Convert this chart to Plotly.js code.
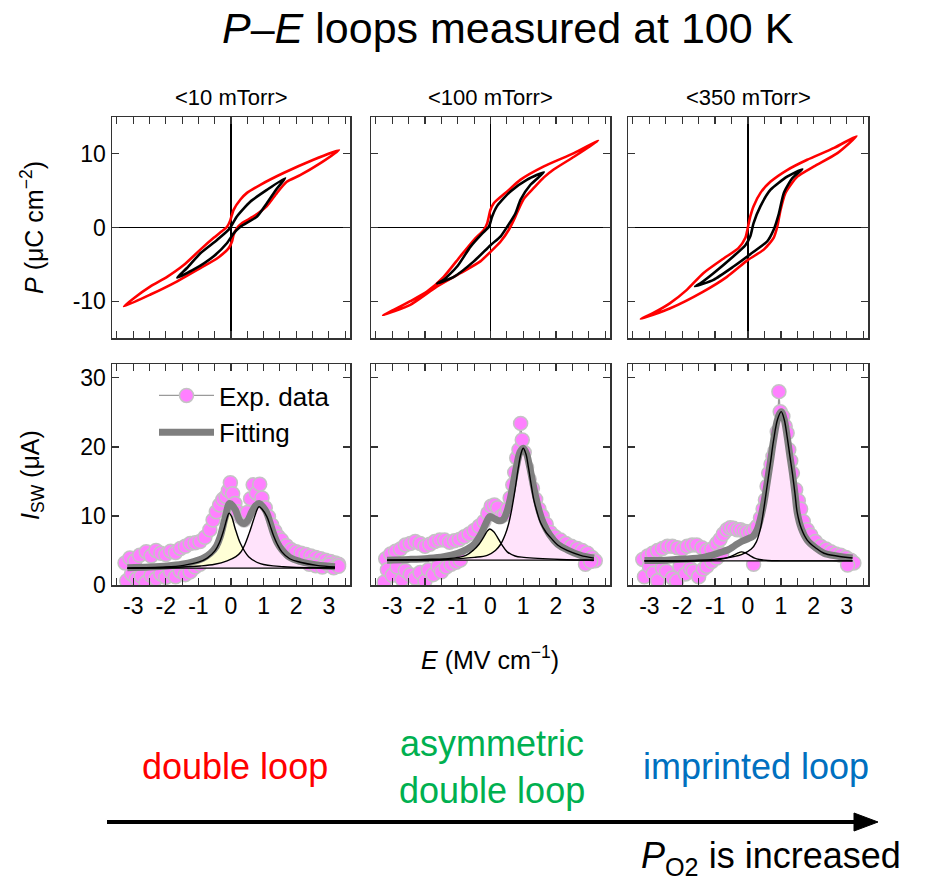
<!DOCTYPE html>
<html>
<head>
<meta charset="utf-8">
<script src="https://cdn.plot.ly/plotly-3.0.1.min.js"></script>
<style>html,body{margin:0;padding:0;background:#fff;}#chart{width:925px;height:884px;}</style>
</head>
<body>
<div id="chart"></div>
<script>
// ---------------- DATA ----------------
const panelTitles = ['&lt;10 mTorr&gt;', '&lt;100 mTorr&gt;', '&lt;350 mTorr&gt;'];
const xTickVals = [-3, -2, -1, 0, 1, 2, 3];
const xTickText = ['-3', '-2', '-1', '0', '1', '2', '3'];
const pTickVals = [-10, 0, 10];
const pTickText = ['-10', '0', '10'];
const iTickVals = [0, 10, 20, 30];
const iTickText = ['0', '10', '20', '30'];

// P-E loops (E in MV/cm, P in uC/cm2) : red = large field loop, black = small field loop
const red10_E = [3.31, 2.53, 1.61, 0.90, 0.49, 0.29, 0.08, -0.02, -0.12, -0.28, -0.53, -0.94, -1.45, -1.96, -2.47, -2.98, -3.28, -2.47, -1.65, -0.94, -0.43, -0.07, 0.03, 0.08, 0.18, 0.34, 0.69, 1.10, 1.41, 1.71, 2.12, 2.73, 3.31];
const red10_P = [10.5, 9.2, 7.4, 5.8, 4.7, 3.8, 2.4, 1.0, 0.1, -0.5, -1.4, -3.0, -5.1, -6.7, -8.0, -9.6, -10.7, -9.1, -7.3, -5.5, -4.2, -2.8, -1.9, -1.0, -0.1, 0.6, 1.5, 2.9, 4.7, 6.2, 7.1, 8.7, 10.5];
const blk10_E = [1.66, 1.10, 0.59, 0.18, 0.03, -0.07, -0.43, -0.94, -1.35, -1.65, -1.14, -0.53, -0.12, 0.08, 0.29, 0.80, 1.10, 1.41, 1.66];
const blk10_P = [6.7, 5.1, 3.5, 1.5, 0.36, -0.3, -1.7, -3.5, -5.5, -6.8, -5.7, -3.9, -2.1, -0.8, 0.1, 1.5, 3.3, 5.3, 6.7];

const red100_E = [3.29, 2.55, 1.63, 0.92, 0.51, 0.10, 0.0, -0.10, -0.20, -0.51, -0.92, -1.43, -1.94, -2.45, -2.96, -3.28, -2.45, -1.63, -0.92, -0.31, 0.0, 0.31, 0.56, 0.71, 0.85, 1.02, 1.33, 1.63, 1.94, 2.55, 2.96, 3.29];
const red100_P = [11.8, 10.1, 8.3, 6.5, 4.9, 3.3, 2.4, 0.6, -0.3, -1.7, -3.9, -6.7, -8.7, -10.0, -11.2, -11.9, -10.5, -8.0, -6.2, -4.6, -3.3, -1.9, -0.3, 1.0, 2.4, 3.9, 5.4, 6.8, 7.9, 9.6, 10.8, 11.8];
const blk100_E = [1.63, 1.12, 0.61, 0.20, 0.05, -0.05, -0.25, -0.61, -1.02, -1.43, -1.63, -1.12, -0.51, 0.0, 0.31, 0.51, 0.76, 0.92, 1.22, 1.63];
const blk100_P = [7.5, 6.5, 4.9, 2.9, 1.5, 0.1, -0.8, -2.6, -5.3, -7.1, -7.6, -6.7, -4.6, -2.4, -1.2, 0.1, 1.9, 3.8, 5.8, 7.5];

const red350_E = [3.30, 2.62, 1.80, 1.19, 0.68, 0.38, 0.17, 0.07, 0.0, -0.08, -0.29, -0.74, -1.36, -1.87, -2.38, -2.88, -3.26, -2.38, -1.36, -0.64, 0.0, 0.48, 0.78, 0.89, 0.99, 1.14, 1.50, 2.01, 2.72, 3.30];
const red350_P = [12.4, 10.8, 9.2, 7.8, 6.2, 4.7, 2.9, 1.5, 0.1, -1.4, -2.8, -4.2, -6.2, -8.5, -10.3, -11.6, -12.4, -11.0, -8.7, -6.7, -4.4, -3.0, -1.4, 0.1, 2.4, 4.7, 6.9, 8.3, 10.1, 12.4];
const blk350_E = [1.65, 1.19, 0.68, 0.38, 0.17, 0.07, -0.08, -0.44, -1.05, -1.46, -1.61, -1.05, -0.44, 0.17, 0.58, 0.78, 0.94, 1.09, 1.35, 1.65];
const blk350_P = [7.9, 6.9, 5.1, 2.9, 0.6, -1.2, -2.4, -3.9, -6.2, -7.6, -8.0, -7.1, -5.3, -3.3, -1.9, -0.3, 1.9, 4.7, 6.7, 7.9];

// Switching current I_SW (uA) vs E : experimental points
const exp10_E = [-3.25, -3.1, -2.95, -2.8, -2.6, -2.45, -2.3, -2.15, -2.0, -1.85, -1.7, -1.55, -1.4, -1.25, -1.1, -0.95, -0.8, -0.65, -0.55, -0.45, -0.35, -0.25, -0.15, -0.08, -0.02, 0.05, 0.12, 0.2, 0.3, 0.4, 0.5, 0.6, 0.68, 0.78, 0.88, 0.95, 1.05, 1.15, 1.25, 1.35, 1.45, 1.55, 1.7, 1.85, 2.0, 2.15, 2.3, 2.45, 2.6, 2.75, 2.9, 3.05, 3.2, 3.3];
const exp10_I = [3.2, 3.9, 3.5, 4.3, 4.8, 4.2, 5.0, 4.6, 4.4, 4.9, 4.7, 5.3, 5.6, 6.0, 6.1, 6.3, 6.9, 8.0, 9.4, 10.6, 11.6, 12.4, 12.8, 13.7, 14.8, 13.2, 11.8, 10.6, 9.8, 9.4, 10.5, 12.5, 14.5, 13.3, 14.6, 12.6, 11.2, 9.9, 8.7, 7.8, 7.0, 6.5, 5.7, 5.1, 4.8, 4.6, 4.4, 4.2, 4.0, 3.8, 3.6, 3.4, 3.2, 3.0];
const exp10b_E = [-3.2, -3.05, -2.9, -2.75, -2.6, -2.45, -2.3, -2.15, -2.0, -1.85, -1.7, -1.55, -1.4, -1.25, -1.1, -0.95, null, 2.4, 2.6, 2.8, 3.0, 3.15, 3.3];
const exp10b_I = [0.6, 1.6, 0.9, 1.3, 0.4, 1.4, 0.9, 1.6, 1.1, 1.9, 1.2, 2.0, 1.5, 1.9, 2.6, 3.0, null, 3.0, 2.8, 2.6, 2.9, 2.5, 2.7];

const exp100_E = [-3.2, -3.05, -2.9, -2.75, -2.6, -2.45, -2.3, -2.15, -2.0, -1.85, -1.7, -1.55, -1.4, -1.25, -1.1, -0.95, -0.8, -0.65, -0.5, -0.35, -0.2, -0.08, 0.02, 0.12, 0.22, 0.32, 0.42, 0.52, 0.6, 0.68, 0.74, 0.8, 0.87, 0.92, 0.97, 1.03, 1.1, 1.18, 1.28, 1.38, 1.48, 1.58, 1.7, 1.83, 1.97, 2.14, 2.3, 2.47, 2.65, 2.8, 2.96, 3.1, 3.2];
const exp100_I = [3.8, 4.5, 4.9, 5.2, 5.8, 6.0, 6.3, 6.0, 5.6, 5.9, 6.3, 6.5, 6.5, 6.2, 6.4, 6.6, 7.0, 7.4, 7.9, 8.5, 9.2, 10.4, 11.4, 11.6, 11.2, 9.9, 10.2, 11.0, 12.6, 14.5, 16.3, 18.4, 19.6, 23.4, 21.0, 19.2, 17.0, 15.3, 14.0, 12.4, 11.0, 10.0, 8.8, 7.6, 7.0, 6.5, 6.0, 5.6, 5.3, 5.0, 4.6, 4.0, 3.5];
const exp100b_E = [-3.25, -3.15, -3.0, -2.85, -2.7, -2.6, -2.45, -2.3, -2.15, -2.0, -1.9, -1.75, -1.6, -1.5, -1.35, -1.2, -1.05, -0.92, null, 2.9, 3.06];
const exp100b_I = [0.4, 2.2, 1.4, 2.6, 0.8, 2.1, 1.5, 1.0, 1.8, 0.6, 2.2, 1.5, 2.7, 1.9, 2.6, 3.0, 3.3, 3.6, null, 3.0, 3.4];

const exp350_E = [-3.2, -3.05, -2.9, -2.75, -2.6, -2.45, -2.3, -2.15, -2.0, -1.85, -1.7, -1.56, -1.4, -1.25, -1.1, -0.95, -0.85, -0.75, -0.64, -0.54, -0.44, -0.33, -0.23, -0.12, -0.03, 0.08, 0.18, 0.28, 0.38, 0.46, 0.53, 0.58, 0.63, 0.7, 0.76, 0.82, 0.89, 0.94, 0.98, 1.06, 1.13, 1.19, 1.24, 1.3, 1.35, 1.45, 1.53, 1.6, 1.68, 1.8, 1.91, 2.05, 2.21, 2.37, 2.52, 2.67, 2.82, 2.98, 3.13, 3.22];
const exp350_I = [3.7, 4.2, 4.6, 5.0, 5.3, 5.6, 5.6, 5.4, 5.2, 5.6, 5.8, 5.8, 5.4, 5.0, 5.2, 6.0, 6.6, 7.4, 8.0, 8.3, 8.2, 8.0, 8.0, 7.8, 7.7, 7.6, 8.0, 8.5, 9.7, 11.0, 12.3, 14.3, 16.2, 17.5, 18.6, 19.4, 22.2, 28.0, 25.1, 24.4, 23.0, 22.0, 19.6, 18.0, 16.2, 13.8, 12.2, 11.0, 9.2, 8.0, 7.2, 6.3, 5.6, 5.2, 4.8, 4.5, 4.3, 4.0, 3.6, 3.2];
const exp350b_E = [-3.15, -3.0, -2.88, -2.75, -2.6, -2.48, -2.3, -2.17, -2.07, -1.9, -1.75, -1.66, -1.5, -1.36, -1.25, -1.1, -0.95, -0.8, null, 0.17, null, 3.03];
const exp350b_I = [1.2, 2.7, 1.7, 0.6, 2.4, 2.0, 1.0, 0.6, 2.7, 1.6, 2.4, 2.0, 1.2, 2.3, 2.7, 3.4, 3.9, 4.5, null, 3.0, null, 2.9];

// Fitting: total curve, two peak components, baseline
const fit10_E = [-3.18, -2.5, -1.96, -1.5, -1.14, -0.85, -0.63, -0.45, -0.33, -0.17, -0.04, 0.13, 0.27, 0.40, 0.52, 0.64, 0.76, 0.86, 1.0, 1.10, 1.2, 1.3, 1.42, 1.56, 1.8, 2.12, 2.63, 3.19];
const fit10_I = [2.5, 2.6, 2.75, 3.0, 3.4, 3.9, 4.6, 5.6, 7.0, 9.9, 11.8, 10.9, 9.3, 8.9, 9.4, 10.6, 11.5, 11.8, 11.2, 10.4, 9.0, 7.5, 6.1, 5.1, 4.0, 3.4, 2.9, 2.65];
const pkA10_E = [-3.18, -2.0, -1.45, -1.0, -0.73, -0.5, -0.35, -0.22, -0.12, -0.06, 0.02, 0.12, 0.29, 0.54, 0.9, 1.61, 3.19];
const pkA10_I = [2.45, 2.6, 2.85, 3.3, 3.9, 4.9, 6.2, 8.0, 9.7, 10.4, 9.9, 8.3, 6.0, 4.1, 3.1, 2.65, 2.5];
const pkB10_E = [-3.18, -1.5, -0.94, -0.5, -0.12, 0.15, 0.29, 0.42, 0.55, 0.69, 0.8, 0.86, 0.95, 1.10, 1.2, 1.30, 1.42, 1.56, 1.8, 2.12, 2.63, 3.19];
const pkB10_I = [2.45, 2.6, 2.75, 3.0, 3.5, 4.1, 4.7, 5.8, 7.4, 9.4, 10.9, 11.35, 11.0, 9.9, 8.6, 7.2, 5.9, 4.8, 3.8, 3.3, 2.85, 2.6];
const base10_E = [-3.18, 3.19];
const base10_I = [2.45, 2.45];

const fit100_E = [-3.16, -2.5, -1.9, -1.43, -1.0, -0.71, -0.5, -0.31, -0.15, -0.02, 0.12, 0.25, 0.39, 0.5, 0.6, 0.7, 0.8, 0.9, 1.0, 1.1, 1.2, 1.3, 1.4, 1.5, 1.62, 1.8, 2.05, 2.34, 2.75, 3.16];
const fit100_I = [3.6, 3.7, 3.85, 4.1, 4.6, 5.2, 5.9, 7.2, 8.8, 9.9, 9.6, 9.3, 9.5, 10.6, 12.4, 14.8, 17.3, 19.2, 19.8, 19.0, 17.0, 14.6, 12.4, 10.5, 8.9, 7.3, 5.9, 5.1, 4.3, 3.9];
const pkA100_E = [-3.16, -2.0, -1.12, -0.75, -0.51, -0.35, -0.2, -0.1, -0.02, 0.1, 0.2, 0.35, 0.51, 0.75, 1.02, 2.14, 3.16];
const pkA100_I = [3.6, 3.7, 3.9, 4.3, 5.1, 5.9, 7.0, 7.8, 8.1, 7.7, 7.0, 5.8, 4.8, 4.2, 4.0, 3.7, 3.6];
const pkB100_E = [-3.16, -1.43, -0.5, -0.1, 0.15, 0.31, 0.45, 0.55, 0.65, 0.75, 0.85, 0.93, 1.0, 1.08, 1.16, 1.24, 1.32, 1.42, 1.53, 1.7, 1.83, 2.05, 2.34, 2.75, 3.16];
const pkB100_I = [3.6, 3.7, 4.0, 4.3, 5.0, 5.9, 7.3, 8.8, 11.0, 13.8, 17.0, 19.0, 19.8, 19.0, 17.0, 14.6, 12.4, 10.6, 9.0, 7.6, 6.9, 5.8, 5.0, 4.3, 3.9];
const base100_E = [-3.16, 3.16];
const base100_I = [3.6, 3.6];

const fit350_E = [-3.15, -2.5, -1.9, -1.36, -1.11, -0.85, -0.6, -0.4, -0.2, 0.0, 0.16, 0.28, 0.38, 0.48, 0.58, 0.68, 0.78, 0.9, 1.01, 1.1, 1.19, 1.27, 1.35, 1.43, 1.5, 1.62, 1.8, 2.05, 2.31, 2.7, 3.18];
const fit350_I = [3.55, 3.6, 3.75, 4.0, 4.3, 4.7, 5.1, 5.7, 6.3, 6.7, 7.1, 8.0, 9.6, 11.8, 14.7, 17.8, 21.0, 24.0, 25.1, 24.0, 21.5, 18.8, 16.2, 13.2, 10.4, 8.2, 6.5, 5.4, 4.6, 4.2, 3.9];
const pkA350_E = [-3.15, -1.5, -1.0, -0.7, -0.45, -0.3, -0.2, -0.1, 0.05, 0.2, 0.35, 0.6, 1.0, 3.18];
const pkA350_I = [3.5, 3.5, 3.6, 3.85, 4.3, 4.65, 4.8, 4.7, 4.3, 3.9, 3.7, 3.55, 3.5, 3.5];
const pkB350_E = [-3.15, -1.5, -0.7, -0.2, 0.1, 0.25, 0.38, 0.48, 0.58, 0.68, 0.78, 0.9, 1.01, 1.1, 1.19, 1.27, 1.35, 1.43, 1.5, 1.62, 1.8, 2.05, 2.31, 2.7, 3.18];
const pkB350_I = [3.5, 3.6, 3.9, 4.4, 5.2, 6.2, 8.2, 11.0, 14.3, 17.6, 21.0, 24.0, 25.1, 24.0, 21.5, 18.8, 16.2, 13.2, 10.4, 8.2, 6.5, 5.4, 4.6, 4.2, 3.9];
const base350_E = [-3.15, 3.18];
const base350_I = [3.5, 3.5];

// ---------------- STYLE ----------------
const FONT = 'Arial, "Liberation Sans", sans-serif';
const W = 925, H = 884;
const px = v => v / W;
const py = v => 1 - v / H;
const colDom = [[px(112), px(350)], [px(371), px(610)], [px(628), px(868)]];
const rowTop = [py(338), py(117)];
const rowBot = [py(585), py(364)];
const AX = '#333333';

const traces = [];
const loops = [
  [red10_E, red10_P, blk10_E, blk10_P],
  [red100_E, red100_P, blk100_E, blk100_P],
  [red350_E, red350_P, blk350_E, blk350_P]
];
loops.forEach((L, i) => {
  const xa = i === 0 ? 'x' : 'x' + (i + 1);
  const ya = i === 0 ? 'y' : 'y' + (i + 1);
  traces.push({x: L[0], y: L[1], xaxis: xa, yaxis: ya, mode: 'lines', line: {color: '#ff0000', width: 2.6, shape: 'spline', smoothing: 0.6}, showlegend: false, hoverinfo: 'skip'});
  traces.push({x: L[2], y: L[3], xaxis: xa, yaxis: ya, mode: 'lines', line: {color: '#000000', width: 2.6, shape: 'spline', smoothing: 0.6}, showlegend: false, hoverinfo: 'skip'});
});

const sw = [
  [exp10_E, exp10_I, exp10b_E, exp10b_I, fit10_E, fit10_I, pkA10_E, pkA10_I, pkB10_E, pkB10_I, base10_E, base10_I],
  [exp100_E, exp100_I, exp100b_E, exp100b_I, fit100_E, fit100_I, pkA100_E, pkA100_I, pkB100_E, pkB100_I, base100_E, base100_I],
  [exp350_E, exp350_I, exp350b_E, exp350b_I, fit350_E, fit350_I, pkA350_E, pkA350_I, pkB350_E, pkB350_I, base350_E, base350_I]
];
const expStyle = {mode: 'lines+markers', line: {color: '#9a9a9a', width: 1.2}, marker: {color: '#ff80ff', size: 14, line: {color: '#c4c4c4', width: 1.5}}, connectgaps: false};
sw.forEach((S, i) => {
  const xa = 'x' + (i + 4), ya = 'y' + (i + 4);
  const base = {xaxis: xa, yaxis: ya, hoverinfo: 'skip'};
  traces.push(Object.assign({x: S[0], y: S[1], name: 'Exp. data', showlegend: i === 0}, base, expStyle));
  traces.push(Object.assign({x: S[2], y: S[3], showlegend: false}, base, expStyle));
  traces.push(Object.assign({x: S[10], y: S[11], mode: 'lines', line: {width: 0}, showlegend: false}, base));
  traces.push(Object.assign({x: S[6], y: S[7], mode: 'lines', line: {width: 0, shape: 'spline'}, fill: 'tonexty', fillcolor: '#ffffd6', showlegend: false}, base));
  traces.push(Object.assign({x: S[10], y: S[11], mode: 'lines', line: {width: 0}, showlegend: false}, base));
  traces.push(Object.assign({x: S[8], y: S[9], mode: 'lines', line: {width: 0, shape: 'spline'}, fill: 'tonexty', fillcolor: '#ffe3fb', showlegend: false}, base));
  traces.push(Object.assign({x: S[4], y: S[5], mode: 'lines', name: 'Fitting', line: {color: '#7f7f7f', width: 7, shape: 'spline'}, showlegend: i === 0}, base));
  traces.push(Object.assign({x: S[6], y: S[7], mode: 'lines', line: {color: '#000', width: 1.4, shape: 'spline'}, showlegend: false}, base));
  traces.push(Object.assign({x: S[8], y: S[9], mode: 'lines', line: {color: '#000', width: 1.4, shape: 'spline'}, showlegend: false}, base));
  traces.push(Object.assign({x: S[10], y: S[11], mode: 'lines', line: {color: '#000', width: 1.4}, showlegend: false}, base));
});

function axis(extra) {
  return Object.assign({
    showline: true, linecolor: AX, linewidth: 1.5, mirror: 'allticks',
    ticks: 'inside', ticklen: 7, tickwidth: 1.3, tickcolor: AX,
    showgrid: false, zeroline: false, fixedrange: true,
    tickfont: {family: FONT, size: 23, color: '#000'}
  }, extra);
}
function xax(i, top) {
  return axis({
    domain: colDom[i], anchor: top ? (i === 0 ? 'y' : 'y' + (i + 1)) : 'y' + (i + 4),
    range: [-3.65, 3.65], tickmode: 'array', tickvals: xTickVals, ticktext: xTickText,
    showticklabels: !top,
    minor: {tickmode: 'linear', tick0: 0, dtick: 0.5, ticks: 'inside', ticklen: 7, tickwidth: 1.1, tickcolor: AX},
    zeroline: top, zerolinecolor: '#000', zerolinewidth: 1.5
  });
}
function yax(i, top) {
  return axis({
    domain: top ? rowTop : rowBot, anchor: top ? (i === 0 ? 'x' : 'x' + (i + 1)) : 'x' + (i + 4),
    range: top ? [-15, 15] : [0, 32], tickmode: 'array',
    tickvals: top ? pTickVals : iTickVals, ticktext: top ? pTickText : iTickText,
    showticklabels: i === 0,
    zeroline: top, zerolinecolor: '#000', zerolinewidth: 1.5
  });
}
function label(text, x, y, size, color, angle) {
  return {text: text, x: px(x), y: py(y), xref: 'paper', yref: 'paper', xanchor: 'center', yanchor: 'middle',
          showarrow: false, textangle: angle || 0, font: {size: size, family: FONT, color: color || '#000'}};
}

const layout = {
  width: W, height: H, margin: {l: 0, r: 0, t: 0, b: 0},
  paper_bgcolor: '#fff', plot_bgcolor: 'rgba(0,0,0,0)',
  font: {family: FONT, color: '#000'},
  showlegend: true,
  legend: {x: px(154), y: py(372), xanchor: 'left', yanchor: 'top', traceorder: 'normal', bgcolor: 'rgba(0,0,0,0)', font: {family: FONT, size: 26}, itemwidth: 55, tracegroupgap: 0},
  xaxis: xax(0, true), xaxis2: xax(1, true), xaxis3: xax(2, true),
  xaxis4: xax(0, false), xaxis5: xax(1, false), xaxis6: xax(2, false),
  yaxis: yax(0, true), yaxis2: yax(1, true), yaxis3: yax(2, true),
  yaxis4: yax(0, false), yaxis5: yax(1, false), yaxis6: yax(2, false),
  annotations: [
    label('<i>P</i>–<i>E</i> loops measured at 100 K', 508, 28, 43),
    label(panelTitles[0], 231, 97, 22),
    label(panelTitles[1], 490, 97, 22),
    label(panelTitles[2], 748, 97, 22),
    label('<i>P</i> (μC cm<sup>−2</sup>)', 32, 228, 25, '#000', -90),
    label('<i>I</i><sub>SW</sub> (μA)', 32, 475, 25, '#000', -90),
    label('<i>E</i> (MV cm<sup>−1</sup>)', 490, 658, 25),
    label('double loop', 235, 766, 36, '#ff0000'),
    label('asymmetric<br>double loop', 492, 767, 36, '#00b050'),
    label('imprinted loop', 756, 766, 36, '#0070c0'),
    label('<i>P</i><sub>O2</sub> is increased', 771, 858, 36)
  ],
  shapes: [
    {type: 'line', xref: 'paper', yref: 'paper', x0: px(107), x1: px(860), y0: py(822), y1: py(822), line: {color: '#000', width: 4}},
    {type: 'path', xref: 'paper', yref: 'paper', path: 'M ' + px(878) + ' ' + py(822) + ' L ' + px(854) + ' ' + py(813) + ' L ' + px(854) + ' ' + py(831) + ' Z', fillcolor: '#000', line: {color: '#000', width: 1}}
  ]
};

Plotly.newPlot('chart', traces, layout, {staticPlot: true, displayModeBar: false});
</script>
</body>
</html>
